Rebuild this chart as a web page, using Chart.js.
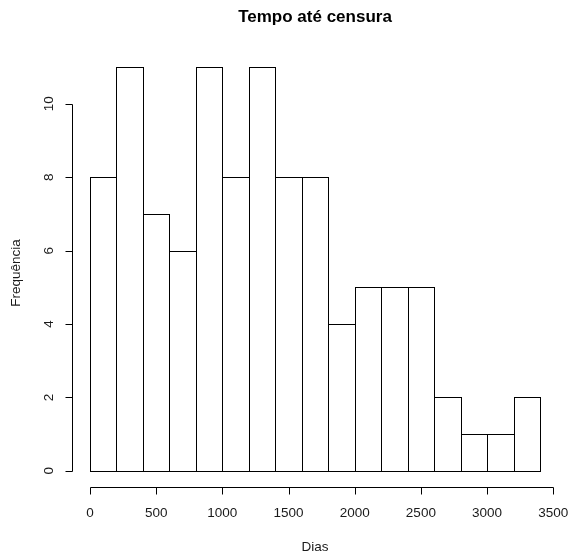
<!DOCTYPE html>
<html>
<head>
<meta charset="utf-8">
<script src="https://cdn.jsdelivr.net/npm/chart.js@4"></script>
<style>
  html, body { margin: 0; padding: 0; background: #fff; }
  #wrap { width: 571px; height: 555px; }
</style>
</head>
<body>
<div id="wrap"><canvas id="hist" width="571" height="555"></canvas></div>
<script>
// Histogram of days until censoring, 200-day bins
const binStarts = [0, 200, 400, 600, 800, 1000, 1200, 1400, 1600, 1800, 2000, 2200, 2400, 2600, 2800, 3000, 3200];
const binWidth = 200;
const counts = [8, 11, 7, 6, 11, 8, 11, 8, 8, 4, 5, 5, 5, 2, 1, 1, 2];
const xTicks = [0, 500, 1000, 1500, 2000, 2500, 3000, 3500];
const yTicks = [0, 2, 4, 6, 8, 10];
const titleText = 'Tempo até censura';
const xLabel = 'Dias';
const yLabel = 'Frequência';

const FONT = '"Liberation Sans", Arial, sans-serif';
const INK = '#000';
const TEXT = '#1a1a1a';

const points = binStarts.map((s, i) => ({ x: s + binWidth / 2, y: counts[i] }));

// Bar outlines stroked on pixel centres so shared edges stay one pixel wide
const barOutlines = {
  id: 'barOutlines',
  afterDatasetsDraw(chart) {
    const ctx = chart.ctx;
    const meta = chart.getDatasetMeta(0);
    ctx.save();
    ctx.strokeStyle = INK;
    ctx.lineWidth = 1;
    meta.data.forEach(bar => {
      const l = Math.round(bar.x - bar.width / 2) + 0.5;
      const r = Math.round(bar.x + bar.width / 2) + 0.5;
      const t = Math.round(bar.y) + 0.5;
      const b = Math.round(bar.base) + 0.5;
      ctx.strokeRect(l, t, r - l, b - t);
    });
    ctx.restore();
  }
};

// R-style axes, drawn off the plot edge with the chart's own scales
const rAxes = {
  id: 'rAxes',
  afterDraw(chart) {
    const ctx = chart.ctx;
    const xs = chart.scales.x, ys = chart.scales.y;
    const area = chart.chartArea;
    const tick = 7;
    ctx.save();
    ctx.strokeStyle = INK;
    ctx.lineWidth = 1;

    // x axis
    const yAx = Math.round(area.bottom) + 0.5;
    ctx.beginPath();
    ctx.moveTo(Math.round(xs.getPixelForValue(xTicks[0])) + 0.5, yAx);
    ctx.lineTo(Math.round(xs.getPixelForValue(xTicks[xTicks.length - 1])) + 0.5, yAx);
    xTicks.forEach(v => {
      const px = Math.round(xs.getPixelForValue(v)) + 0.5;
      ctx.moveTo(px, yAx);
      ctx.lineTo(px, yAx + tick);
    });
    ctx.stroke();

    // y axis
    const xAx = Math.round(area.left) + 0.5;
    ctx.beginPath();
    ctx.moveTo(xAx, Math.round(ys.getPixelForValue(yTicks[0])) + 0.5);
    ctx.lineTo(xAx, Math.round(ys.getPixelForValue(yTicks[yTicks.length - 1])) + 0.5);
    yTicks.forEach(v => {
      const py = Math.round(ys.getPixelForValue(v)) + 0.5;
      ctx.moveTo(xAx, py);
      ctx.lineTo(xAx - tick, py);
    });
    ctx.stroke();

    ctx.fillStyle = TEXT;
    ctx.font = '13.5px ' + FONT;
    ctx.textAlign = 'center';
    ctx.textBaseline = 'middle';
    xTicks.forEach(v => {
      ctx.fillText(String(v), xs.getPixelForValue(v), yAx + 26);
    });
    yTicks.forEach(v => {
      ctx.save();
      ctx.translate(xAx - 23, ys.getPixelForValue(v));
      ctx.rotate(-Math.PI / 2);
      ctx.fillText(String(v), 0, 0);
      ctx.restore();
    });

    // axis titles
    const midX = (area.left + area.right) / 2;
    const midY = (area.top + area.bottom) / 2;
    ctx.fillText(xLabel, midX, yAx + 60);
    ctx.save();
    ctx.translate(16, midY + 4);
    ctx.rotate(-Math.PI / 2);
    ctx.fillText(yLabel, 0, 0);
    ctx.restore();

    // main title
    ctx.fillStyle = '#000';
    ctx.font = 'bold 17px ' + FONT;
    ctx.fillText(titleText, midX, 17);
    ctx.restore();
  }
};

new Chart(document.getElementById('hist'), {
  type: 'bar',
  data: {
    datasets: [{
      data: points,
      backgroundColor: '#ffffff',
      borderWidth: 0,
      barPercentage: 1,
      categoryPercentage: 1
    }]
  },
  options: {
    responsive: false,
    animation: false,
    events: [],
    layout: { padding: { left: 72, right: 13, top: 51, bottom: 68 } },
    plugins: { legend: { display: false }, tooltip: { enabled: false }, title: { display: false } },
    scales: {
      x: { type: 'linear', display: false, offset: false, min: -136, max: 3536 },
      y: { type: 'linear', display: false, min: -0.44, max: 11.44 }
    }
  },
  plugins: [barOutlines, rAxes]
});
</script>
</body>
</html>
